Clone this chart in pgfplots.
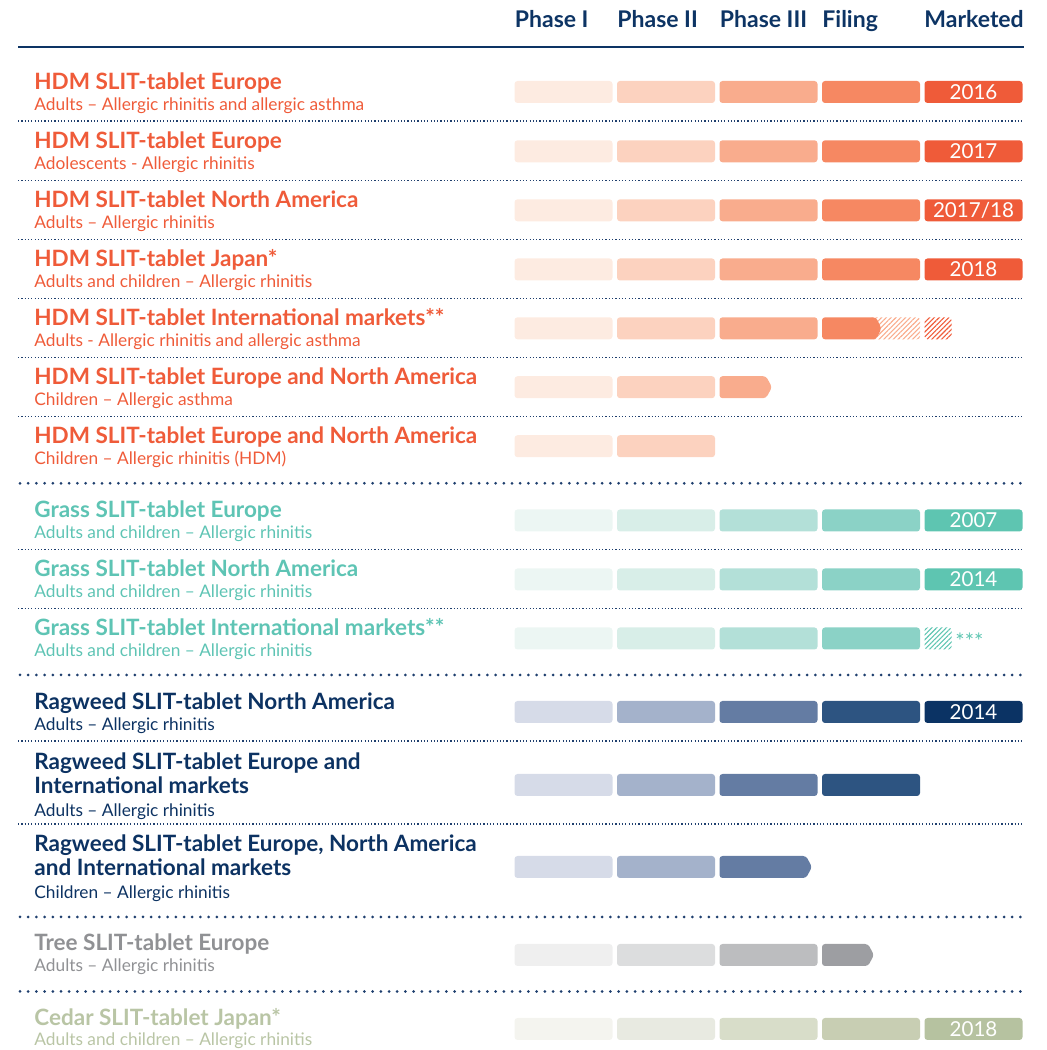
\documentclass[border=0pt]{standalone}
\usepackage{pgfplots}
\pgfplotsset{compat=1.18}
\usetikzlibrary{patterns.meta}
\usepackage{fontspec}
\setmainfont{Lato}
% HDM
\definecolor{h1}{HTML}{FDEBE1}\definecolor{h2}{HTML}{FCD2BF}\definecolor{h3}{HTML}{F9AC8D}\definecolor{h4}{HTML}{F68862}\definecolor{h5}{HTML}{EF5B39}\definecolor{ht}{HTML}{EF5B39}
% Grass
\definecolor{g1}{HTML}{ECF6F3}\definecolor{g2}{HTML}{D8EEE8}\definecolor{g3}{HTML}{B3E0D8}\definecolor{g4}{HTML}{8BD2C6}\definecolor{g5}{HTML}{5EC5B1}\definecolor{gt}{HTML}{5EC4B4}
% Ragweed
\definecolor{r1}{HTML}{D6DBE8}\definecolor{r2}{HTML}{A4B2CB}\definecolor{r3}{HTML}{647CA3}\definecolor{r4}{HTML}{2D5481}\definecolor{r5}{HTML}{0B3364}\definecolor{rt}{HTML}{0C3262}
% Tree
\definecolor{t1}{HTML}{EFEFEF}\definecolor{t2}{HTML}{DCDDDE}\definecolor{t3}{HTML}{BCBDBF}\definecolor{t4}{HTML}{9D9EA2}\definecolor{tt}{HTML}{909194}
% Cedar
\definecolor{c1}{HTML}{F4F4EF}\definecolor{c2}{HTML}{E8EAE1}\definecolor{c3}{HTML}{D8DDC9}\definecolor{c4}{HTML}{C8CEB3}\definecolor{c5}{HTML}{B6C2A0}\definecolor{ct}{HTML}{B9C5A5}
\definecolor{hdr}{HTML}{0D3464}
\definecolor{sep}{HTML}{1F3F6E}

\pgfdeclareplotmark{stg}{%
  \pgfsetcornersarced{\pgfpoint{1.5pt}{1.5pt}}%
  \pgfpathrectangle{\pgfpoint{-24.5pt}{-5.5pt}}{\pgfpoint{49pt}{11pt}}%
  \pgfusepath{fill}}

\newcommand{\tfont}{\fontsize{11.25}{13}\selectfont\bfseries}
\newcommand{\hfont}{\fontsize{11.5}{13}\selectfont\bfseries}
\newcommand{\sfont}{\fontsize{8.65}{10}\selectfont}
\newcommand{\yfont}{\fontsize{10.3}{12}\selectfont}

\tikzset{
  sepfine/.style={sep, line width=0.6pt, dash pattern=on 0.6pt off 1.05pt},
  sepbold/.style={sep, line width=1.5pt, line cap=round, dash pattern=on 0pt off 4.1pt},
  tl/.style={anchor=base west, inner sep=0pt, font=\tfont},
  hl/.style={anchor=base west, inner sep=0pt, font=\hfont, text=hdr},
  sl/.style={anchor=base west, inner sep=0pt, font=\sfont},
  yl/.style={anchor=base, inner sep=0pt, font=\yfont, text=white},
  hatch/.style={draw=none, pattern={Lines[angle=45,distance=1.7pt,line width=0.55pt]}, rounded corners=1.5pt},
}

\begin{document}
\begin{tikzpicture}
\begin{axis}[
  set layers,
  x=0.5pt, y=0.5pt, y dir=reverse,
  xmin=0, xmax=1046, ymin=0, ymax=1050,
  axis lines=none, clip=false,
  bar/.style={only marks, mark=stg},
]
\addplot[draw=none] coordinates {(0,0)(1046,1050)};

% header
\node[hl] at (axis cs:514.5,28) {Phase I};
\node[hl] at (axis cs:617,28) {Phase II};
\node[hl] at (axis cs:719.5,28) {Phase III};
\node[hl] at (axis cs:822,28) {Filing};
\node[hl] at (axis cs:924,28) {Marketed};
\addplot[hdr, line width=1.25pt] coordinates {(18,47)(1024,47)};

% separators
\addplot[sepfine] coordinates {(18,121)(1024,121)};
\addplot[sepfine] coordinates {(18,180.3)(1024,180.3)};
\addplot[sepfine] coordinates {(18,239.3)(1024,239.3)};
\addplot[sepfine] coordinates {(18,298.3)(1024,298.3)};
\addplot[sepfine] coordinates {(18,357.3)(1024,357.3)};
\addplot[sepfine] coordinates {(18,416.7)(1024,416.7)};
\addplot[sepbold] coordinates {(20,483.3)(1024,483.3)};
\addplot[sepfine] coordinates {(18,549.3)(1024,549.3)};
\addplot[sepfine] coordinates {(18,608.7)(1024,608.7)};
\addplot[sepbold] coordinates {(20,675)(1024,675)};
\addplot[sepfine] coordinates {(18,741)(1024,741)};
\addplot[sepfine] coordinates {(18,824)(1024,824)};
\addplot[sepbold] coordinates {(20,917)(1024,917)};
\addplot[sepbold] coordinates {(20,991.5)(1024,991.5)};

% ---- HDM bars
\addplot[bar, color=h1] coordinates {(563.5,92)(563.5,151.3)(563.5,210.3)(563.5,269.5)(563.5,328.3)(563.5,387.2)(563.5,446.2)};
\addplot[bar, color=h2] coordinates {(666,92)(666,151.3)(666,210.3)(666,269.5)(666,328.3)(666,387.2)(666,446.2)};
\addplot[bar, color=h3] coordinates {(768.5,92)(768.5,151.3)(768.5,210.3)(768.5,269.5)(768.5,328.3)};
\addplot[bar, color=h4] coordinates {(871,92)(871,151.3)(871,210.3)(871,269.5)};
\addplot[bar, color=h5] coordinates {(973.5,92)(973.5,151.3)(973.5,210.3)(973.5,269.5)};
% row 6 arrow (Phase III)
\addplot[draw=none, fill=h3, rounded corners=1.5pt] coordinates {(719.5,376.2)(766,376.2)(772,387.2)(766,398.2)(719.5,398.2)} -- cycle;
% row 5 filing hatched + arrow, marketed hatched
\addplot[hatch, pattern color=h3] coordinates {(870,317.3)(920,317.3)(920,339.3)(870,339.3)} -- cycle;
\addplot[draw=none, fill=h4, rounded corners=1.5pt] coordinates {(822,317.3)(876,317.3)(881.5,328.3)(876,339.3)(822,339.3)} -- cycle;
\addplot[hatch, pattern color=h5] coordinates {(924.5,317.3)(951.5,317.3)(951.5,339.3)(924.5,339.3)} -- cycle;

% ---- Grass bars
\addplot[bar, color=g1] coordinates {(563.5,520.5)(563.5,579.5)(563.5,638.5)};
\addplot[bar, color=g2] coordinates {(666,520.5)(666,579.5)(666,638.5)};
\addplot[bar, color=g3] coordinates {(768.5,520.5)(768.5,579.5)(768.5,638.5)};
\addplot[bar, color=g4] coordinates {(871,520.5)(871,579.5)(871,638.5)};
\addplot[bar, color=g5] coordinates {(973.5,520.5)(973.5,579.5)};
\addplot[hatch, pattern color=g5] coordinates {(924.5,627.5)(951.5,627.5)(951.5,649.5)(924.5,649.5)} -- cycle;

% ---- Ragweed bars
\addplot[bar, color=r1] coordinates {(563.5,712)(563.5,785)(563.5,867)};
\addplot[bar, color=r2] coordinates {(666,712)(666,785)(666,867)};
\addplot[bar, color=r3] coordinates {(768.5,712)(768.5,785)};
\addplot[bar, color=r4] coordinates {(871,712)(871,785)};
\addplot[bar, color=r5] coordinates {(973.5,712)};
\addplot[draw=none, fill=r3, rounded corners=1.5pt] coordinates {(719.5,856)(806,856)(812,867)(806,878)(719.5,878)} -- cycle;

% ---- Tree bars
\addplot[bar, color=t1] coordinates {(563.5,955)};
\addplot[bar, color=t2] coordinates {(666,955)};
\addplot[bar, color=t3] coordinates {(768.5,955)};
\addplot[draw=none, fill=t4, rounded corners=1.5pt] coordinates {(822,944)(868,944)(874,955)(868,966)(822,966)} -- cycle;

% ---- Cedar bars
\addplot[bar, color=c1] coordinates {(563.5,1029)};
\addplot[bar, color=c2] coordinates {(666,1029)};
\addplot[bar, color=c3] coordinates {(768.5,1029)};
\addplot[bar, color=c4] coordinates {(871,1029)};
\addplot[bar, color=c5] coordinates {(973.5,1029)};

% years (on top of the bars)
\begin{pgfonlayer}{axis foreground}
\node[yl] at (axis cs:973.5,99.3) {2016};
\node[yl] at (axis cs:973.5,158.6) {2017};
\node[yl] at (axis cs:973.5,217.6) {2017/18};
\node[yl] at (axis cs:973.5,276.8) {2018};
\node[yl] at (axis cs:973.5,527.8) {2007};
\node[yl] at (axis cs:973.5,586.8) {2014};
\node[yl] at (axis cs:973.5,719.3) {2014};
\node[yl] at (axis cs:973.5,1036.3) {2018};
\end{pgfonlayer}
\node[anchor=base west, inner sep=0pt, font=\fontsize{11}{12}\selectfont, text=g5] at (axis cs:955,650) {***};

% labels HDM
\node[tl, text=ht] at (axis cs:34,89.5) {HDM SLIT-tablet Europe};
\node[sl, text=ht] at (axis cs:34,110.3) {Adults – Allergic rhinitis and allergic asthma};
\node[tl, text=ht] at (axis cs:34,148.7) {HDM SLIT-tablet Europe};
\node[sl, text=ht] at (axis cs:34,169.5) {Adolescents - Allergic rhinitis};
\node[tl, text=ht] at (axis cs:34,207.7) {HDM SLIT-tablet North America};
\node[sl, text=ht] at (axis cs:34,228.5) {Adults – Allergic rhinitis};
\node[tl, text=ht] at (axis cs:34,266.8) {HDM SLIT-tablet Japan*};
\node[sl, text=ht] at (axis cs:34,287.6) {Adults and children – Allergic rhinitis};
\node[tl, text=ht] at (axis cs:34,325.7) {HDM SLIT-tablet International markets**};
\node[sl, text=ht] at (axis cs:34,346.5) {Adults - Allergic rhinitis and allergic asthma};
\node[tl, text=ht] at (axis cs:34,384.6) {HDM SLIT-tablet Europe and North America};
\node[sl, text=ht] at (axis cs:34,405.4) {Children – Allergic asthma};
\node[tl, text=ht] at (axis cs:34,443.6) {HDM SLIT-tablet Europe and North America};
\node[sl, text=ht] at (axis cs:34,464.4) {Children – Allergic rhinitis (HDM)};
% Grass
\node[tl, text=gt] at (axis cs:34,517.8) {Grass SLIT-tablet Europe};
\node[sl, text=gt] at (axis cs:34,538.6) {Adults and children – Allergic rhinitis};
\node[tl, text=gt] at (axis cs:34,576.8) {Grass SLIT-tablet North America};
\node[sl, text=gt] at (axis cs:34,597.6) {Adults and children – Allergic rhinitis};
\node[tl, text=gt] at (axis cs:34,635.8) {Grass SLIT-tablet International markets**};
\node[sl, text=gt] at (axis cs:34,656.6) {Adults and children – Allergic rhinitis};
% Ragweed
\node[tl, text=rt] at (axis cs:34,709.3) {Ragweed SLIT-tablet North America};
\node[sl, text=rt] at (axis cs:34,730.5) {Adults – Allergic rhinitis};
\node[tl, text=rt] at (axis cs:34,769.5) {Ragweed SLIT-tablet Europe and};
\node[tl, text=rt] at (axis cs:34,794) {International markets};
\node[sl, text=rt] at (axis cs:34,816.8) {Adults – Allergic rhinitis};
\node[tl, text=rt] at (axis cs:34,851.6) {Ragweed SLIT-tablet Europe, North America};
\node[tl, text=rt] at (axis cs:34,876) {and International markets};
\node[sl, text=rt] at (axis cs:34,898.3) {Children – Allergic rhinitis};
% Tree
\node[tl, text=tt] at (axis cs:34,950.3) {Tree SLIT-tablet Europe};
\node[sl, text=tt] at (axis cs:34,971.7) {Adults – Allergic rhinitis};
% Cedar
\node[tl, text=ct] at (axis cs:34,1025) {Cedar SLIT-tablet Japan*};
\node[sl, text=ct] at (axis cs:34,1046) {Adults and children – Allergic rhinitis};
\end{axis}
\end{tikzpicture}
\end{document}
